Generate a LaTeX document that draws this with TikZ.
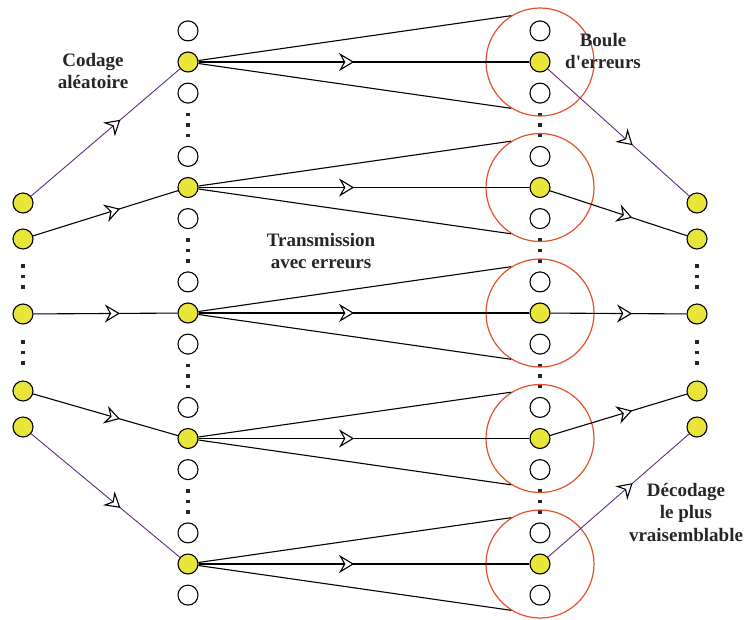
\documentclass[tikz,border=0pt]{standalone}
\usepackage{fontspec}
\setmainfont{Liberation Serif}[Ligatures=TeXOff]
\usetikzlibrary{positioning, arrows.meta, decorations.markings}

\definecolor{bitfill}{RGB}{234,229,58}
\definecolor{ballred}{RGB}{228,82,42}
\definecolor{codepurple}{RGB}{98,42,130}
\definecolor{labelgray}{RGB}{38,38,38}

% three square dots, one above the other
\newcommand{\sqdots}{\vbox{\offinterlineskip
  \hbox{\rule{3.5pt}{3.5pt}}\kern7pt
  \hbox{\rule{3.5pt}{3.5pt}}\kern7pt
  \hbox{\rule{3.5pt}{3.5pt}}}}

\begin{document}
\begin{tikzpicture}[
    x=1pt, y=-1pt,
    node distance=10pt,
    bit/.style={draw, circle, line width=1.1pt, minimum size=20pt, inner sep=0pt, fill=white},
    word/.style={bit, fill=bitfill},
    ball/.style={draw=ballred, circle, line width=1.2pt, minimum size=108pt},
    dots/.style={inner sep=0pt, text=labelgray},
    lbl/.style={font=\fontsize{19}{22.5}\selectfont\bfseries, text=labelgray, align=center},
    arr/.style={postaction={decorate}, decoration={markings,
        mark=at position #1 with {\arrow[black]{Stealth[length=15pt, width=18pt, inset=5pt, fill=white, line width=1.1pt]}}}},
    arr/.default=.6,
    chan/.style={line width=1.1pt},
    pick/.style={codepurple, line width=.9pt}
]
\useasboundingbox (0,0) rectangle (746,619);

% source words
\node[word] (l1) at (23,203) {};
\node[word] (l2) at (23,239) {};
\node[word] (l3) at (23,314) {};
\node[word] (l4) at (23,391) {};
\node[word] (l5) at (23,427) {};

% code words
\node[word] (m1) at (188,62) {};
\node[bit] (m1a) [above=of m1] {};
\node[bit] (m1b) [below=of m1] {};
\node[word] (m2) at (188,187.5) {};
\node[bit] (m2a) [above=of m2] {};
\node[bit] (m2b) [below=of m2] {};
\node[word] (m3) at (188,313) {};
\node[bit] (m3a) [above=of m3] {};
\node[bit] (m3b) [below=of m3] {};
\node[word] (m4) at (188,438.5) {};
\node[bit] (m4a) [above=of m4] {};
\node[bit] (m4b) [below=of m4] {};
\node[word] (m5) at (188,564) {};
\node[bit] (m5a) [above=of m5] {};
\node[bit] (m5b) [below=of m5] {};

% received words
\node[word] (c1) at (540,62) {};
\node[bit] (c1a) [above=of c1] {};
\node[bit] (c1b) [below=of c1] {};
\node[word] (c2) at (540,187.5) {};
\node[bit] (c2a) [above=of c2] {};
\node[bit] (c2b) [below=of c2] {};
\node[word] (c3) at (540,313) {};
\node[bit] (c3a) [above=of c3] {};
\node[bit] (c3b) [below=of c3] {};
\node[word] (c4) at (540,438.5) {};
\node[bit] (c4a) [above=of c4] {};
\node[bit] (c4b) [below=of c4] {};
\node[word] (c5) at (540,564) {};
\node[bit] (c5a) [above=of c5] {};
\node[bit] (c5b) [below=of c5] {};

% decoded words
\node[word] (r1) at (697,203) {};
\node[word] (r2) at (697,239) {};
\node[word] (r3) at (697,314) {};
\node[word] (r4) at (697,391) {};
\node[word] (r5) at (697,427) {};

% dots
\path (l2) -- node[dots] {\sqdots} (l3);
\path (l3) -- node[dots] {\sqdots} (l4);
\path (r2) -- node[dots] {\sqdots} (r3);
\path (r3) -- node[dots] {\sqdots} (r4);
\path (m1b) -- node[dots] {\sqdots} (m2a);
\path (m2b) -- node[dots] {\sqdots} (m3a);
\path (m3b) -- node[dots] {\sqdots} (m4a);
\path (m4b) -- node[dots] {\sqdots} (m5a);
\path (c1b) -- node[dots] {\sqdots} (c2a);
\path (c2b) -- node[dots] {\sqdots} (c3a);
\path (c3b) -- node[dots] {\sqdots} (c4a);
\path (c4b) -- node[dots] {\sqdots} (c5a);

% error balls
\node[ball] (b1) at (c1) {};
\node[ball] (b2) at (c2) {};
\node[ball] (b3) at (c3) {};
\node[ball] (b4) at (c4) {};
\node[ball] (b5) at (c5) {};

% coding
\draw[pick, arr] (l1) -- (m1);
\draw[chan, arr] (l2) -- (m2);
\draw[chan, arr] (l3) -- (m3);
\draw[chan, arr] (l4) -- (m4);
\draw[pick, arr] (l5) -- (m5);

% transmission
\draw[chan] (m1) -- (b1.122);
\draw[chan, arr=.47] (m1) -- (c1);
\draw[chan] (m1) -- (b1.238);
\draw[chan] (m2) -- (b2.122);
\draw[chan, arr=.47] (m2) -- (c2);
\draw[chan] (m2) -- (b2.238);
\draw[chan] (m3) -- (b3.122);
\draw[chan, arr=.47] (m3) -- (c3);
\draw[chan] (m3) -- (b3.238);
\draw[chan] (m4) -- (b4.122);
\draw[chan, arr=.47] (m4) -- (c4);
\draw[chan] (m4) -- (b4.238);
\draw[chan] (m5) -- (b5.122);
\draw[chan, arr=.47] (m5) -- (c5);
\draw[chan] (m5) -- (b5.238);

% decoding
\draw[pick, arr] (c1) -- (r1);
\draw[chan, arr] (c2) -- (r2);
\draw[chan, arr] (c3) -- (r3);
\draw[chan, arr] (c4) -- (r4);
\draw[pick, arr] (c5) -- (r5);

% labels
\node[lbl] (codage) at (93,71) {Codage\\aléatoire};
\node[lbl] (boule) at (603,51) {Boule\\d'erreurs};
\node[lbl] (trans) at (321,251) {Transmission\\avec erreurs};
\node[lbl] (decod) at (686,512) {Décodage\\le plus\\vraisemblable};
\end{tikzpicture}
\end{document}
